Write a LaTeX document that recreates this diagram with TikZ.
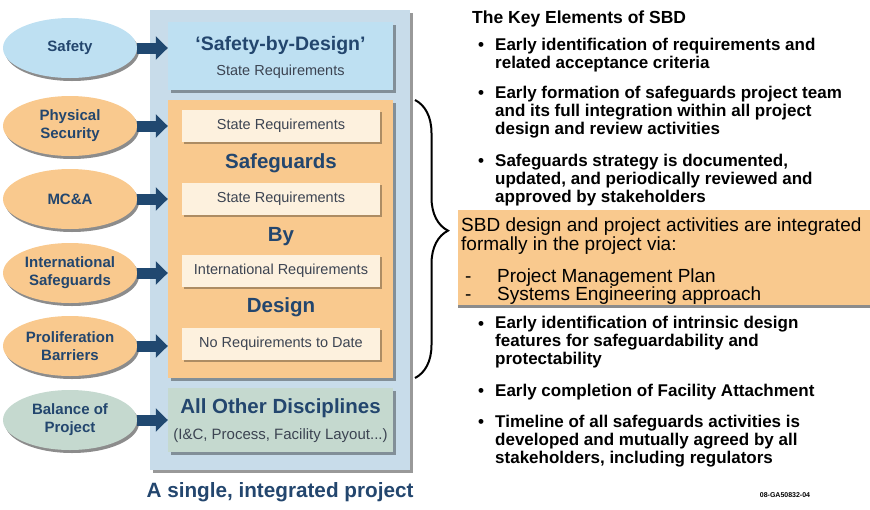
\documentclass[tikz,border=0pt]{standalone}
\usepackage{fontspec}
\setmainfont{Liberation Sans}
\usetikzlibrary{arrows.meta,shapes.geometric,shadows,decorations.pathreplacing}

\begin{document}
\begin{tikzpicture}[x=1pt,y=-1pt,
  ellnode/.style={ellipse, minimum width=134pt, minimum height=60pt, inner sep=0pt, align=center,
    text=sbdblue, font=\fontsize{15}{18}\selectfont\bfseries,
    drop shadow={shadow xshift=2pt, shadow yshift=-3pt, fill=black, opacity=.45}},
  bigbox/.style={rectangle, minimum width=225pt, inner sep=0pt,
    drop shadow={shadow xshift=2.5pt, shadow yshift=-2.5pt, fill=black, opacity=.35}},
  reqbox/.style={rectangle, fill=sbdcream, minimum width=198pt, minimum height=32pt, inner sep=0pt,
    text=reqgray, font=\fontsize{14.5}{17}\selectfont,
    drop shadow={shadow xshift=2pt, shadow yshift=-2pt, fill=black, opacity=.3}},
  headtxt/.style={text=sbdblue, font=\fontsize{20.5}{24}\selectfont\bfseries, inner sep=0pt},
  subtxt/.style={text=reqgray, font=\fontsize{14.5}{17}\selectfont, inner sep=0pt},
  feed/.style={draw=arrowblue, line width=11pt, -{Triangle[length=12pt,width=23pt]}},
  keyitem/.style={anchor=base west, align=left, inner sep=0pt, font=\fontsize{17}{18}\selectfont\bfseries},
  viatxt/.style={anchor=base west, align=left, inner sep=0pt, font=\fontsize{19}{17.5}\selectfont},
]
  \definecolor{sbdblue}{RGB}{35,70,110}
  \definecolor{arrowblue}{RGB}{32,72,112}
  \definecolor{reqgray}{RGB}{60,68,82}
  \definecolor{panelblue}{RGB}{200,220,234}
  \definecolor{sbdsky}{RGB}{190,224,242}
  \definecolor{sbdorange}{RGB}{249,201,142}
  \definecolor{sbdcream}{RGB}{253,241,222}
  \definecolor{sbdgreen}{RGB}{197,217,207}
  \useasboundingbox (0,0) rectangle (870,509);

  % the single project
  \node[rectangle, fill=panelblue, minimum width=260pt, minimum height=460pt,
    drop shadow={shadow xshift=3pt, shadow yshift=-3pt, fill=black, opacity=.4}] (panel) at (280,240) {};
  \node[bigbox, fill=sbdsky, minimum height=68pt] (sbd) at (280.5,56) {};
  \node[headtxt, font=\fontsize{19.5}{22}\selectfont\bfseries] (sbdtitle) at (280.5,45) {‘Safety-by-Design’};
  \node[subtxt] (sbdsub) at (280.5,72) {State Requirements};

  \node[bigbox, fill=sbdorange, minimum height=278pt] (sg) at (280.5,239) {};
  \node[reqbox] (req1) at (281,126) {State Requirements};
  \node[headtxt] (sgword) at (281,163) {Safeguards};
  \node[reqbox] (req2) at (281,198.5) {State Requirements};
  \node[headtxt] (byword) at (281,237) {By};
  \node[reqbox] (req3) at (281,271) {International Requirements};
  \node[headtxt] (designword) at (281,307) {Design};
  \node[reqbox] (req4) at (281,343.5) {No Requirements to Date};

  \node[bigbox, fill=sbdgreen, minimum height=64pt] (other) at (280.5,420) {};
  \node[headtxt] (othertitle) at (280.5,408) {All Other Disciplines};
  \node[subtxt, font=\fontsize{15}{17}\selectfont] (othersub) at (280.5,436) {(I\&C, Process, Facility Layout...)};

  \node[headtxt, font=\fontsize{20.7}{24}\selectfont\bfseries] (caption) at (280,492) {A single, integrated project};

  % disciplines
  \node[ellnode, fill=sbdsky] (safety) at (70,48) {Safety};
  \node[ellnode, fill=sbdorange] (physec) at (70,126) {Physical\\Security};
  \node[ellnode, fill=sbdorange] (mca) at (70,199) {MC\&A};
  \node[ellnode, fill=sbdorange] (intsg) at (70,273) {International\\Safeguards};
  \node[ellnode, fill=sbdorange] (prolif) at (70,346) {Proliferation\\Barriers};
  \node[ellnode, fill=sbdgreen] (balance) at (70,420) {Balance of\\Project};

  \draw[feed] (safety.east) -- (safety.east -| sbd.west);
  \draw[feed] (physec.east) -- (physec.east -| sg.west);
  \draw[feed] (mca.east) -- (mca.east -| sg.west);
  \draw[feed] (intsg.east) -- (intsg.east -| sg.west);
  \draw[feed] (prolif.east) -- (prolif.east -| sg.west);
  \draw[feed] (balance.east) -- (balance.east -| other.west);

  \draw[line width=2pt, decorate, decoration={brace, amplitude=33pt, aspect=0.47}] (415,100) -- (415,378);

  % key elements (multi-line nodes sit on their last line)
  \node[keyitem, font=\fontsize{17.5}{18}\selectfont\bfseries] (keytitle) at (472,23) {The Key Elements of SBD};
  \node[keyitem] (dot1) at (478,50) {•};
  \node[keyitem] (key1) at (495,68) {Early identification of requirements and\\related acceptance criteria};
  \node[keyitem] (dot2) at (478,98) {•};
  \node[keyitem] (key2) at (495,134) {Early formation of safeguards project team\\and its full integration within all project\\design and review activities};
  \node[keyitem] (dot3) at (478,166) {•};
  \node[keyitem] (key3) at (495,202) {Safeguards strategy is documented,\\updated, and periodically reviewed and\\approved by stakeholders};

  \node[rectangle, fill=sbdorange, minimum width=415pt, minimum height=95pt, anchor=north west, inner sep=0pt,
    drop shadow={shadow xshift=0pt, shadow yshift=-3pt, fill=black, opacity=.45}] (via) at (458,210) {};
  \node[viatxt] (viatext) at (461,250) {SBD design and project activities are integrated\\formally in the project via:};
  \node[viatxt] (dash1) at (465,282) {-};
  \node[viatxt] (pmp) at (497,282) {Project Management Plan};
  \node[viatxt] (dash2) at (465,300) {-};
  \node[viatxt] (sea) at (497,300) {Systems Engineering approach};

  \node[keyitem] (dot4) at (478,329) {•};
  \node[keyitem] (key4) at (495,364) {Early identification of intrinsic design\\features for safeguardability and\\protectability};
  \node[keyitem] (dot5) at (478,396) {•};
  \node[keyitem] (key5) at (495,396) {Early completion of Facility Attachment};
  \node[keyitem] (dot6) at (478,427) {•};
  \node[keyitem] (key6) at (495,463) {Timeline of all safeguards activities is\\developed and mutually agreed by all\\stakeholders, including regulators};

  \node[inner sep=0pt, font=\fontsize{7}{8}\selectfont\bfseries] (docid) at (785,495) {08-GA50832-04};
\end{tikzpicture}
\end{document}
